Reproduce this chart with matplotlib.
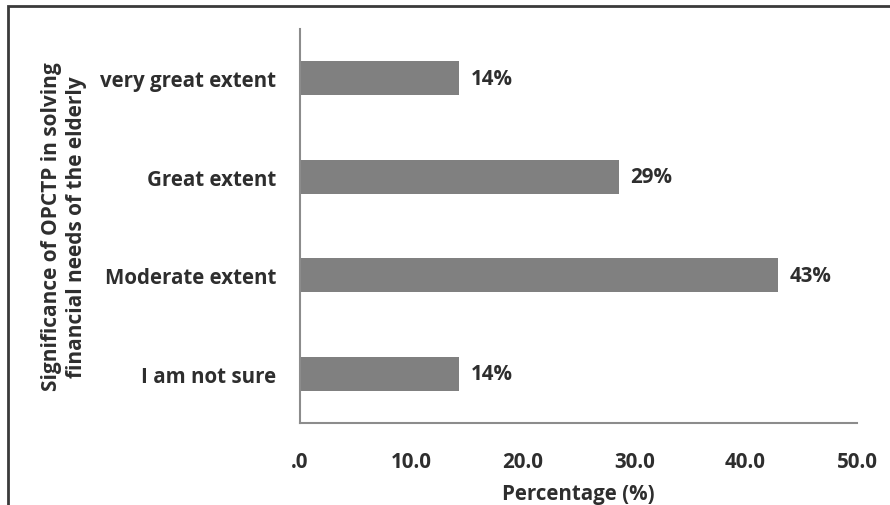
import matplotlib
matplotlib.use("Agg")
import matplotlib.pyplot as plt
from matplotlib.patches import Rectangle

categories = ["I am not sure", "Moderate extent", "Great extent", "very great extent"]
values = [14.3, 42.9, 28.6, 14.3]
bar_labels = ["14%", "43%", "29%", "14%"]
xticks = [0, 10, 20, 30, 40, 50]
xtick_labels = [".0", "10.0", "20.0", "30.0", "40.0", "50.0"]

W, H = 890, 506
fig = plt.figure(figsize=(W / 100, H / 100), dpi=100)
ax = fig.add_axes([300 / W, 1 - 424 / H, (857 - 300) / W, (424 - 30) / H])

font = "Open Sans"
fw = "bold"
tc = "#2e2e2e"
fs = 14.8

ypos = list(range(len(categories)))
ax.barh(ypos, values, height=0.35, color="#808080", zorder=2)
ax.set_xlim(0, 50)
ax.set_ylim(-0.5, len(categories) - 0.5)
ax.set_xticks(xticks)
ax.set_xticklabels(xtick_labels, fontfamily=font, fontweight=fw, fontsize=fs, color=tc)
ax.set_yticks(ypos)
ax.set_yticklabels(categories, fontfamily=font, fontweight=fw, fontsize=fs, color=tc)
ax.tick_params(axis="x", length=0, pad=20)
ax.tick_params(axis="y", length=0, pad=17)

for s in ["top", "right"]:
    ax.spines[s].set_visible(False)
for s in ["left", "bottom"]:
    ax.spines[s].set_color("#8c8c8c")
    ax.spines[s].set_linewidth(1.5)

for y, v, lab in zip(ypos, values, bar_labels):
    ax.annotate(lab, xy=(v, y), xytext=(12, 0), textcoords="offset pixels",
                va="center", ha="left", fontfamily=font, fontweight=fw,
                fontsize=fs, color=tc)

ax.set_xlabel("Percentage (%)", fontfamily=font, fontweight=fw, fontsize=14.8, color=tc, va="center")
ax.xaxis.set_label_coords(0.5, -(495 - 424) / (424 - 30))
ax.set_ylabel("Significance of OPCTP in solving\nfinancial needs of the elderly",
              fontfamily=font, fontweight=fw, fontsize=15, color=tc,
              linespacing=1.25, va="center", ha="center")
ax.yaxis.set_label_coords(-(300 - 64) / (857 - 300), 0.5)

# outer border (top and left visible, rest cropped)
fig.patches.append(Rectangle((8 / W, -0.1), 1.2, 1 - 7 / H + 0.1, transform=fig.transFigure,
                             fill=False, edgecolor="#3a3a3a", linewidth=2.0))

fig.savefig("out.png", dpi=100)
